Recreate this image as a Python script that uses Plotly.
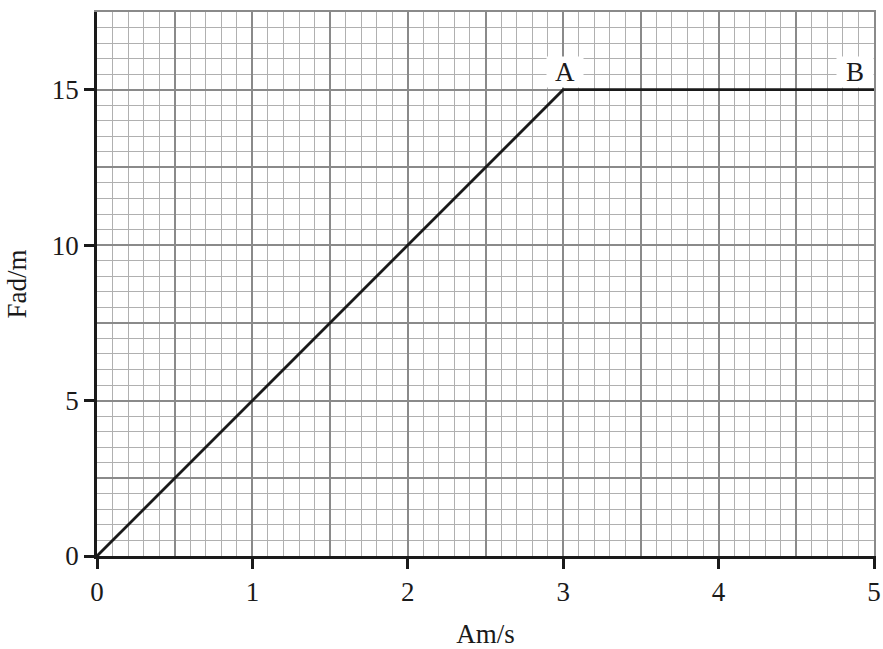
import plotly.graph_objects as go

# Data
x_vals = [0, 3, 5]
y_vals = [0, 15, 15]
label_names = ["A", "B"]
label_x = [3.01, 4.875]
label_y = [15.56, 15.56]
x_tick_vals = [0, 1, 2, 3, 4, 5]
y_tick_vals = [0, 5, 10, 15]

FONT = "Liberation Serif"
MAJOR = "#8a8a8a"
MINOR = "#b0b0b0"

fig = go.Figure()
# invisible helper trace for the overlay grid axes
fig.add_trace(go.Scatter(x=[0], y=[0], xaxis="x2", yaxis="y2", mode="markers",
                         marker=dict(opacity=0), showlegend=False, hoverinfo="skip"))
fig.add_trace(go.Scatter(x=x_vals, y=y_vals, mode="lines",
                         line=dict(color="#1a1a1a", width=2.8), showlegend=False))

for name, lx, ly in zip(label_names, label_x, label_y):
    fig.add_annotation(x=lx, y=ly, text=name, showarrow=False,
                       font=dict(family=FONT, size=27, color="#1a1a1a"),
                       bgcolor="white", borderpad=0, width=36, height=30,
                       valign="middle", align="center")

fig.update_layout(
    width=883, height=649,
    margin=dict(l=97, r=9, t=12, b=93),
    paper_bgcolor="white", plot_bgcolor="white",
    font=dict(family=FONT, size=27, color="#1a1a1a"),
    xaxis=dict(range=[0, 5], tickmode="array", tickvals=x_tick_vals, ticks="outside",
               ticklen=10, tickwidth=3, tickcolor="#1a1a1a", showline=True,
               linecolor="#1a1a1a", linewidth=2.5, showgrid=False, zeroline=False,
               automargin=False, layer="above traces",
               title=dict(text="Am/s", font=dict(size=27), standoff=19)),
    yaxis=dict(range=[0, 17.5], tickmode="array", tickvals=y_tick_vals, ticks="outside",
               ticklen=10, tickwidth=3, tickcolor="#1a1a1a", showline=True,
               linecolor="#1a1a1a", linewidth=2.5, showgrid=False, zeroline=False,
               automargin=False, layer="above traces",
               title=dict(text="Fad/m", font=dict(size=27), standoff=18)),
    xaxis2=dict(overlaying="x", side="top", range=[0, 5], tickmode="linear", dtick=0.5,
                tick0=0, showgrid=True, gridcolor=MAJOR, gridwidth=1.5,
                showticklabels=False, ticks="", zeroline=False, showline=True,
                linecolor=MAJOR, linewidth=2, automargin=False,
                minor=dict(tickmode="linear", dtick=0.1, tick0=0, showgrid=True,
                           gridcolor=MINOR, gridwidth=1)),
    yaxis2=dict(overlaying="y", side="right", range=[0, 17.5], tickmode="linear",
                dtick=2.5, tick0=0, showgrid=True, gridcolor=MAJOR, gridwidth=1.5,
                showticklabels=False, ticks="", zeroline=False, showline=True,
                linecolor=MAJOR, linewidth=2, automargin=False,
                minor=dict(tickmode="linear", dtick=0.5, tick0=0, showgrid=True,
                           gridcolor=MINOR, gridwidth=1)),
)

fig.write_html("out.html", config={"displayModeBar": False},
               post_script="document.body.style.margin='0px';document.body.style.overflow='hidden';")
